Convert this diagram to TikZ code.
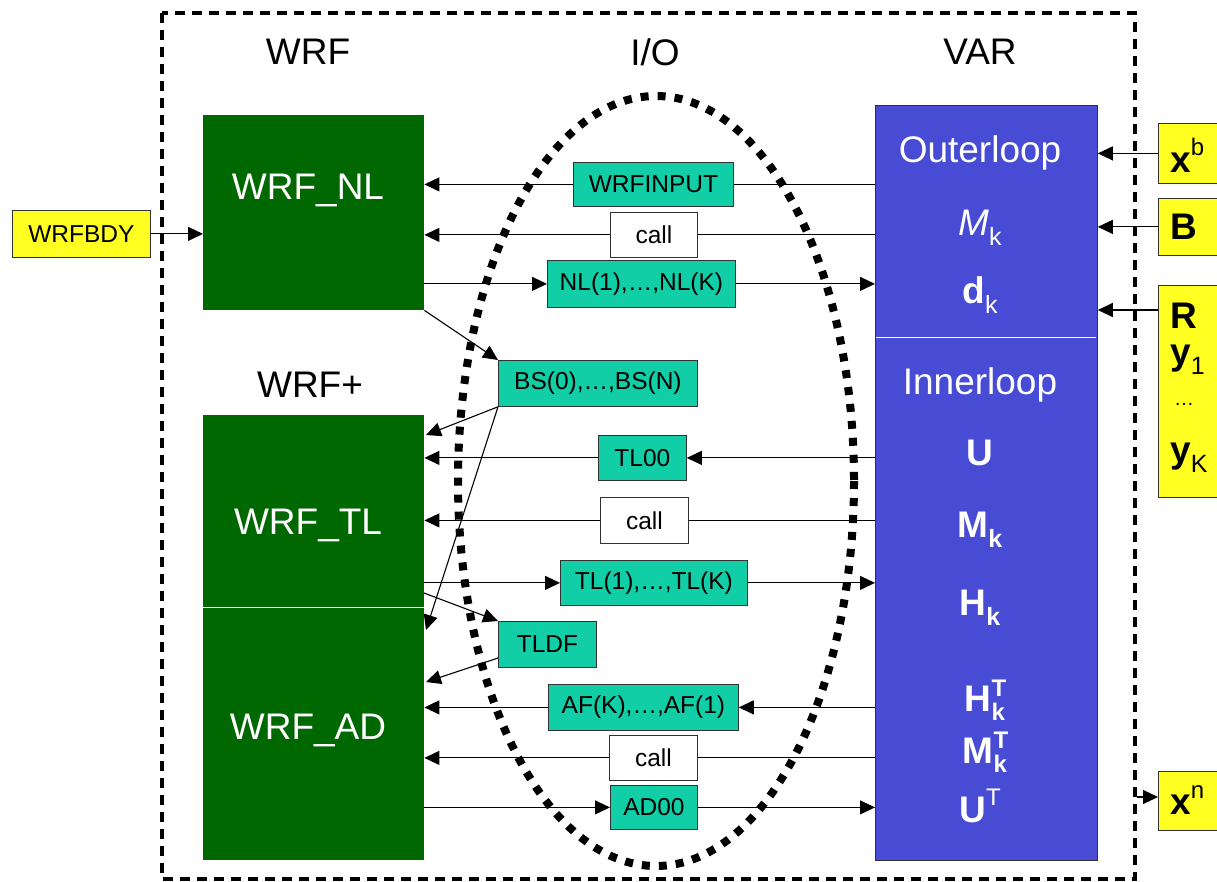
\documentclass[tikz,border=0pt]{standalone}
\usepackage{fontspec}
\setmainfont{Liberation Sans}
\usetikzlibrary{arrows.meta,calc}
\definecolor{wgreen}{RGB}{0,104,0}
\definecolor{vblue}{RGB}{72,76,212}
\definecolor{tealc}{RGB}{18,206,166}
\definecolor{yel}{RGB}{255,255,34}
\definecolor{bord}{RGB}{50,50,50}
\newcommand{\sbx}[1]{\raisebox{-0.28em}{\fontsize{25}{25}\selectfont #1}}
\newcommand{\spx}[1]{\raisebox{0.45em}{\fontsize{24}{24}\selectfont #1}}
\newcommand{\sbsp}[2]{\rlap{\raisebox{0.42em}{\fontsize{24}{24}\selectfont #2}}\raisebox{-0.22em}{\fontsize{24}{24}\selectfont #1}}
\begin{document}
\begin{tikzpicture}[x=1pt,y=-1pt,
  outer/.style={line width=3.5pt, dash pattern=on 10pt off 7pt},
  dots/.style={line width=8pt, dash pattern=on 8pt off 9pt},
  tbox/.style={draw=bord, fill=tealc, line width=0.8pt, inner sep=0pt, anchor=north west, font=\fontsize{24.5}{24.5}\selectfont},
  wbox/.style={tbox, fill=white},
  ybox/.style={draw=bord, fill=yel, line width=0.8pt, inner sep=0pt, anchor=north west},
  gbox/.style={fill=wgreen, inner sep=0pt, anchor=north west},
  vbox/.style={fill=vblue, draw=bord, line width=0.8pt, inner sep=0pt, anchor=north west},
  big/.style={font=\fontsize{37}{37}\selectfont, inner sep=0pt},
  wtxt/.style={big, text=white},
  ytxt/.style={big, anchor=west},
  ln/.style={line width=1.1pt},
  arr/.style={line width=1.1pt, -{Triangle[length=15pt,width=14pt]}},
]
\useasboundingbox (0,0) rectangle (1217,882);

% outer dashed frame
\draw[outer] (162,13) rectangle (1135,879);

% titles
\node[big] (tWRF) at (308,52) {WRF};
\node[big] (tIO) at (655,52) {I/O};
\node[big] (tVAR) at (980,52) {VAR};

% dotted ellipse
\draw[dots] (656,481) ellipse [x radius=198, y radius=385];

% WRF column
\node[gbox, minimum width=221pt, minimum height=195pt] (nl) at (203,115) {};
\node[gbox, minimum width=221pt, minimum height=192pt] (tl) at (203,415) {};
\node[gbox, minimum width=221pt, minimum height=253pt] (ad) at (203,607) {};
\draw[white, line width=1pt] (tl.south west) -- (tl.south east);
\node[wtxt] (tNL) at (308,190) {WRF\_NL};
\node[big] (tplus) at (310,385) {WRF+};
\node[wtxt] (tTL) at (308,525) {WRF\_TL};
\node[wtxt] (tAD) at (308,730) {WRF\_AD};

% VAR column
\node[vbox, minimum width=222pt, minimum height=755pt] (var) at (875,105) {};
\coordinate (sepL) at (876,337);
\coordinate (sepR) at (1096,337);
\draw[white, line width=1pt] (sepL) -- (sepR);
\node[wtxt] (v1) at (980,153) {Outerloop};
\node[wtxt] (v2) at (980,228) {\textit{M}\sbx{k}};
\node[wtxt] (v3) at (980,295) {\textbf{d}\sbx{k}};
\node[wtxt] (v4) at (980,385) {Innerloop};
\node[wtxt] (v5) at (980,453) {\textbf{U}};
\node[wtxt] (v6) at (980,530) {\textbf{M}\sbx{\textbf{k}}};
\node[wtxt] (v7) at (980,608) {\textbf{H}\sbx{\textbf{k}}};
\node[wtxt] (v8) at (985,700) {\textbf{H}\sbsp{\textbf{k}}{\textbf{T}}};
\node[wtxt] (v9) at (985,752) {\textbf{M}\sbsp{\textbf{k}}{\textbf{T}}};
\node[wtxt] (v10) at (980,806) {\textbf{U}\spx{T}};

% I/O boxes
\node[tbox, minimum width=160pt, minimum height=44pt] (wrfinput) at (573,162) {WRFINPUT};
\node[wbox, minimum width=87pt, minimum height=45pt] (call1) at (610,212) {call};
\node[tbox, minimum width=188pt, minimum height=47pt] (nlk) at (547,260) {NL(1),…,NL(K)};
\node[tbox, minimum width=199pt, minimum height=46pt] (bs) at (498,360) {BS(0),…,BS(N)};
\node[tbox, minimum width=88pt, minimum height=45pt] (tl00) at (598,435) {TL00};
\node[wbox, minimum width=88pt, minimum height=46pt] (call2) at (600,497) {call};
\node[tbox, minimum width=187pt, minimum height=45pt] (tlk) at (560,560) {TL(1),…,TL(K)};
\node[tbox, minimum width=98pt, minimum height=46pt] (tldf) at (498,621) {TLDF};
\node[tbox, minimum width=190pt, minimum height=46pt] (afk) at (548,684) {AF(K),…,AF(1)};
\node[wbox, minimum width=88pt, minimum height=45pt] (call3) at (609,735) {call};
\node[tbox, minimum width=87pt, minimum height=44pt] (ad00) at (610,785) {AD00};

% left input
\node[ybox, minimum width=138pt, minimum height=47pt, font=\fontsize{24.5}{24.5}\selectfont] (wrfbdy) at (12,210) {WRFBDY};

% right yellow boxes
\node[ybox, minimum width=72pt, minimum height=60pt] (xb) at (1158,123) {};
\node[ytxt] (xbt) at (1170,155) {\textbf{x}\spx{b}};
\node[ybox, minimum width=72pt, minimum height=57pt] (bb) at (1158,198) {};
\node[ytxt] (bbt) at (1170,227) {\textbf{B}};
\node[ybox, minimum width=72pt, minimum height=212pt] (rb) at (1158,285) {};
\node[ytxt] (r1) at (1170,316) {\textbf{R}};
\node[ytxt] (r2) at (1170,360) {\textbf{y}\sbx{1}};
\node[anchor=west, inner sep=0pt, font=\fontsize{20}{20}\selectfont] (r3) at (1174,404) {…};
\node[ytxt] (r4) at (1170,458) {\textbf{y}\sbx{K}};
\node[ybox, minimum width=72pt, minimum height=59pt] (xn) at (1158,771) {};
\node[ytxt] (xnt) at (1170,800) {\textbf{x}\spx{n}};

% connectors: NL
\draw[ln] (var.west |- wrfinput) -- (wrfinput.east);
\draw[arr] (wrfinput.west) -- (nl.east |- wrfinput);
\draw[ln] (var.west |- call1) -- (call1.east);
\draw[arr] (call1.west) -- (nl.east |- call1);
\draw[arr] (nl.east |- nlk) -- (nlk.west);
\draw[arr] (nlk.east) -- (var.west |- nlk);
\draw[arr] (nl.south east) -- (bs.north west);

% TL
\coordinate (tlA) at (426,435);
\coordinate (adA) at (426,630);
\coordinate (tlB) at (424,593);
\coordinate (adB) at (426,682);
\coordinate (tldfO) at (498,658);
\draw[arr] (bs.south west) -- (tlA);
\draw[arr] (bs.south west) -- (adA);
\draw[arr] (var.west |- tl00) -- (tl00.east);
\draw[arr] (tl00.west) -- (tl.east |- tl00);
\draw[ln] (var.west |- call2) -- (call2.east);
\draw[arr] (call2.west) -- (tl.east |- call2);
\draw[arr] (tl.east |- tlk) -- (tlk.west);
\draw[arr] (tlk.east) -- (var.west |- tlk);
\draw[arr] (tlB) -- (tldf.north west);
\draw[arr] (tldfO) -- (adB);

% AD
\draw[arr] (var.west |- afk) -- (afk.east);
\draw[arr] (afk.west) -- (ad.east |- afk);
\draw[ln] (var.west |- call3) -- (call3.east);
\draw[arr] (call3.west) -- (ad.east |- call3);
\draw[arr] (ad.east |- ad00) -- (ad00.west);
\draw[arr] (ad00.east) -- (var.west |- ad00);

% outside inputs/outputs
\draw[arr] (wrfbdy.east) -- (nl.west |- wrfbdy);
\draw[arr] (xb.west) -- (var.east |- xb);
\draw[arr] (bb.west) -- (var.east |- bb);
\coordinate (rIn) at (1158,310);
\draw[arr] (rIn) -- (var.east |- rIn);
\coordinate (xnS) at (1137,797);
\draw[arr] (xnS) -- (xnS -| xn.west);
\end{tikzpicture}
\end{document}
